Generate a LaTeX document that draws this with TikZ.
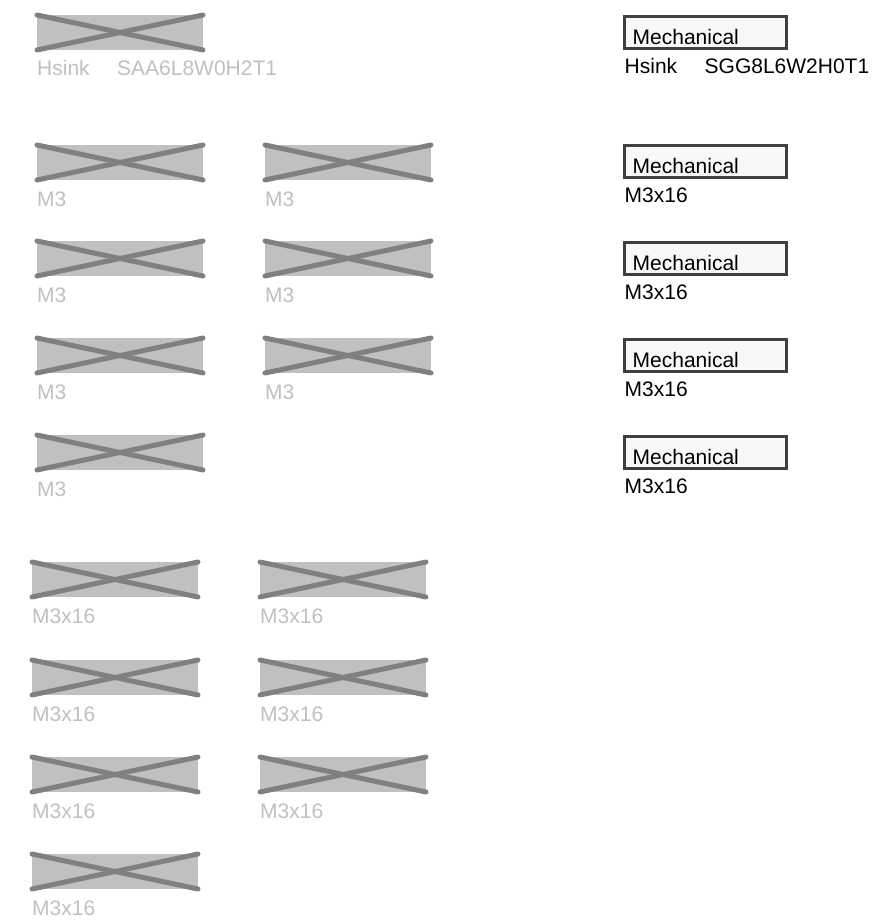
\documentclass[tikz,border=0pt]{standalone}
\usepackage{fontspec}
\setmainfont{Liberation Sans}

\tikzset{
  partbox/.style={fill=partfill, minimum width=166pt, minimum height=35pt,
    inner sep=0pt, outer sep=0pt, anchor=north west},
  crossline/.style={draw=crossgray, line width=5pt, line cap=round},
  partlabel/.style={text=labelgray, font=\fontsize{21}{25}\selectfont,
    inner sep=0pt, anchor=base west},
  mechbox/.style={draw=mechborder, fill=mechfill, line width=3pt,
    minimum width=162pt, minimum height=32pt, inner sep=0pt, outer sep=0pt,
    anchor=north west},
  mechtext/.style={text=black, font=\fontsize{21}{25}\selectfont,
    inner sep=0pt, anchor=base west}
}

\begin{document}
\begin{tikzpicture}[x=1pt,y=-1pt]
  % Define part colors
  \definecolor{partfill}{RGB}{192,192,192}
  \definecolor{crossgray}{RGB}{128,128,128}
  \definecolor{labelgray}{RGB}{192,192,192}
  \definecolor{mechborder}{RGB}{64,64,64}
  \definecolor{mechfill}{RGB}{248,248,248}

  \useasboundingbox (0,0) rectangle (884,920);

  % Draw crossed-out parts
  \foreach \n/\x/\y/\t in {
      hsink/37/15/{Hsink\hspace{27.5pt}SAA6L8W0H2T1},
      m3a/37/145/M3, m3b/265/145/M3,
      m3c/37/241/M3, m3d/265/241/M3,
      m3e/37/338/M3, m3f/265/338/M3,
      m3g/37/435/M3,
      m3xa/32/562/M3x16, m3xb/260/562/M3x16,
      m3xc/32/660/M3x16, m3xd/260/660/M3x16,
      m3xe/32/757/M3x16, m3xf/260/757/M3x16,
      m3xg/32/854/M3x16} {
    \node[partbox] (\n) at (\x,\y) {};
    \draw[crossline] (\n.north west) -- (\n.south east);
    \draw[crossline] (\n.south west) -- (\n.north east);
    \node[partlabel] (\n-lbl) at ([yshift=-26pt]\n.south west) {\t};
  }

  % Draw mechanical parts
  \foreach \n/\y/\t in {
      mech0/15/{Hsink\hspace{27.5pt}SGG8L6W2H0T1},
      mech1/144/M3x16, mech2/241/M3x16,
      mech3/338/M3x16, mech4/435/M3x16} {
    \node[mechbox] (\n) at (624.5,\y+1.5) {};
    \node[mechtext] (\n-txt) at ([xshift=8pt,yshift=4pt]\n.south west) {Mechanical};
    \node[mechtext] (\n-lbl) at ([yshift=-25pt]\n.south west) {\t};
  }
\end{tikzpicture}
\end{document}
